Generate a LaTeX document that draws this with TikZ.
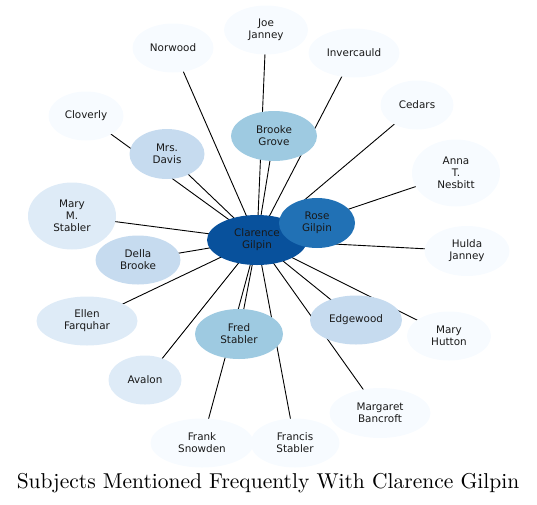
\documentclass[tikz,border=0pt]{standalone}
\usepackage{fontspec}
\newfontfamily\labelfont{DejaVu Sans}
\newfontfamily\titlefont{lmroman10-regular.otf}
\usetikzlibrary{shapes.geometric, backgrounds}

\definecolor{blueA}{HTML}{08519C}
\definecolor{blueB}{HTML}{2171B5}
\definecolor{blueC}{HTML}{9ECAE1}
\definecolor{blueD}{HTML}{C6DBEF}
\definecolor{blueE}{HTML}{DEEBF7}
\definecolor{blueF}{HTML}{F7FBFF}

\begin{document}
\begin{tikzpicture}[
    x=1pt, y=-1pt,
    subject/.style={ellipse, inner sep=0pt, align=center, text=black!90,
        font=\labelfont\fontsize{10.4}{12}\selectfont, minimum height=49pt},
    tall/.style={minimum height=67pt},
    link/.style={black, line width=0.9pt}
]
\useasboundingbox (0,0) rectangle (537,504);

% Mittelpunkt
\node[subject, fill=blueA, minimum width=100pt, minimum height=50pt] (clarence) at (257,240) {Clarence\\Gilpin};
\node[subject, fill=blueB, minimum width=76pt, minimum height=50pt] (rose) at (317,223) {Rose\\Gilpin};

% Innerer Ring
\node[subject, fill=blueC, minimum width=86pt, minimum height=50pt] (brooke) at (274,136) {Brooke\\Grove};
\node[subject, fill=blueC, minimum width=88pt, minimum height=50pt] (fred) at (239,334) {Fred\\Stabler};
\node[subject, fill=blueD, minimum width=75pt, minimum height=50pt] (davis) at (167,154) {Mrs.\\Davis};
\node[subject, fill=blueD, minimum width=85pt] (della) at (138,260) {Della\\Brooke};
\node[subject, fill=blueD, minimum width=92pt] (edgewood) at (356,320) {Edgewood};
\node[subject, fill=blueE, tall, minimum width=88pt] (marym) at (72,216) {Mary\\M.\\Stabler};
\node[subject, fill=blueE, minimum width=101pt] (ellen) at (87,321) {Ellen\\Farquhar};
\node[subject, fill=blueE, minimum width=73pt] (avalon) at (145,380) {Avalon};

% Aeusserer Ring
\node[subject, fill=blueF, minimum width=84pt] (joe) at (266,30) {Joe\\Janney};
\node[subject, fill=blueF, minimum width=81pt] (norwood) at (173,48) {Norwood};
\node[subject, fill=blueF, minimum width=91pt] (invercauld) at (354,53) {Invercauld};
\node[subject, fill=blueF, minimum width=73pt] (cedars) at (417,105) {Cedars};
\node[subject, fill=blueF, minimum width=75pt] (cloverly) at (86,116) {Cloverly};
\node[subject, fill=blueF, tall, minimum width=88pt] (anna) at (456,173) {Anna\\T.\\Nesbitt};
\node[subject, fill=blueF, minimum width=85pt, minimum height=50pt] (hulda) at (467,251) {Hulda\\Janney};
\node[subject, fill=blueF, minimum width=84pt] (hutton) at (449,336) {Mary\\Hutton};
\node[subject, fill=blueF, minimum width=101pt, minimum height=50pt] (margaret) at (380,413) {Margaret\\Bancroft};
\node[subject, fill=blueF, minimum width=103pt] (frank) at (202,443) {Frank\\Snowden};
\node[subject, fill=blueF, minimum width=89pt] (francis) at (295,443) {Francis\\Stabler};

% Kanten hinter den Knoten
\begin{scope}[on background layer]
\foreach \n in {rose, brooke, fred, davis, della, edgewood, marym, ellen, avalon,
    joe, norwood, invercauld, cedars, cloverly, anna, hulda, hutton, margaret, frank, francis}
    \draw[link] (clarence.center) -- (\n.center);
\end{scope}

% Titel
\node[font=\titlefont\fontsize{21.5}{25}\selectfont, anchor=base, inner sep=0pt] (title) at (268,488) {Subjects Mentioned Frequently With Clarence Gilpin};

\end{tikzpicture}
\end{document}
